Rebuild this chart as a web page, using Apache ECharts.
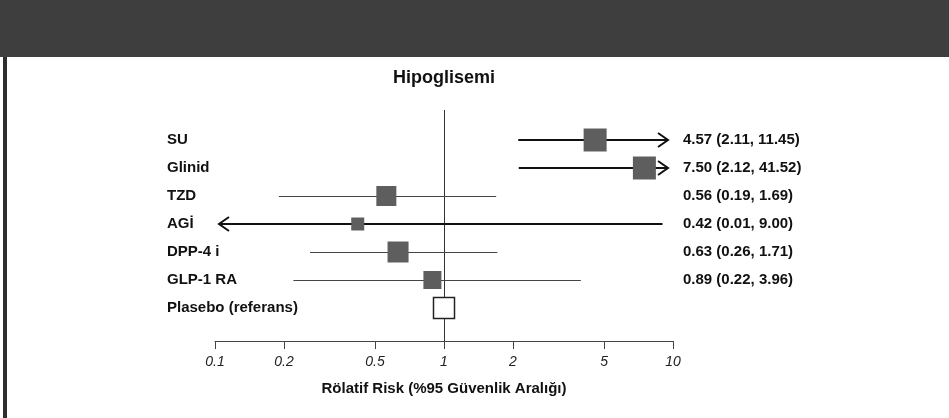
<!DOCTYPE html>
<html>
<head>
<meta charset="utf-8">
<script src="https://cdn.jsdelivr.net/npm/echarts@6/dist/echarts.min.js"></script>
<style>
html,body{margin:0;padding:0;background:#fff;}
#chart{width:949px;height:418px;}
</style>
</head>
<body>
<div id="chart"></div>
<script>
// ---- data ----
const categories = ['SU', 'Glinid', 'TZD', 'AGİ', 'DPP-4 i', 'GLP-1 RA', 'Plasebo (referans)'];
const relRisk = [4.57, 7.50, 0.56, 0.42, 0.63, 0.89, 1];
const ciLower = [2.11, 2.12, 0.19, 0.01, 0.26, 0.22, null];
const ciUpper = [11.45, 41.52, 1.69, 9.00, 1.71, 3.96, null];
const valueLabels = ['4.57 (2.11, 11.45)', '7.50 (2.12, 41.52)', '0.56 (0.19, 1.69)', '0.42 (0.01, 9.00)', '0.63 (0.26, 1.71)', '0.89 (0.22, 3.96)', ''];
const tickValues = [0.1, 0.2, 0.5, 1, 2, 5, 10];
const titleText = 'Hipoglisemi';
const axisTitle = 'Rölatif Risk (%95 Güvenlik Aralığı)';

// ---- style ----
const squareSizes = [23, 23, 20, 13, 21, 18, 21];
const AX_MIN = 0.1, AX_MAX = 10;
const FONT = '"Liberation Sans", Arial, sans-serif';

const chart = echarts.init(document.getElementById('chart'), null, {renderer: 'canvas'});

const ciData = categories.map((c, i) => [ciLower[i], ciUpper[i], i]).filter(d => d[0] != null);
const pointData = categories.map((c, i) => {
  const item = {value: [relRisk[i], i]};
  if (ciLower[i] == null) item.itemStyle = {color: '#fff', borderColor: '#222', borderWidth: 1.5};
  return item;
});

function renderCI(params, api) {
  const lo = api.value(0), hi = api.value(1), row = api.value(2);
  const leftArrow = lo < AX_MIN, rightArrow = hi > AX_MAX;
  const thick = leftArrow || rightArrow;
  let y = api.coord([1, row])[1];
  if (!thick) y = Math.round(y) + 0.5;
  let x1 = api.coord([Math.max(lo, AX_MIN), row])[0];
  let x2 = api.coord([Math.min(hi, AX_MAX), row])[0];
  if (leftArrow) x1 += 4;
  if (rightArrow) x2 -= 5;
  const stroke = thick ? '#111' : '#444';
  const lw = thick ? 2 : 1;
  const children = [{
    type: 'line', shape: {x1: x1, y1: y, x2: x2, y2: y},
    style: {stroke: stroke, lineWidth: lw}
  }];
  if (rightArrow) children.push({type: 'polyline', shape: {points: [[x2 - 10, y - 7], [x2, y], [x2 - 10, y + 7]]}, style: {stroke: '#111', lineWidth: 2, fill: null}});
  if (leftArrow) children.push({type: 'polyline', shape: {points: [[x1 + 10, y - 7], [x1, y], [x1 + 10, y + 7]]}, style: {stroke: '#111', lineWidth: 2, fill: null}});
  return {type: 'group', children: children};
}

function renderRef(params, api) {
  const cs = params.coordSys;
  const x = Math.round(api.coord([api.value(0), 0])[0]) + 0.5;
  return {type: 'line', shape: {x1: x, y1: cs.y - 16, x2: x, y2: cs.y + cs.height + 19}, style: {stroke: '#333', lineWidth: 1}};
}

const option = {
  backgroundColor: '#fff',
  animation: false,
  textStyle: {fontFamily: FONT},
  graphic: [
    {type: 'rect', left: 0, top: 0, shape: {width: 949, height: 57}, style: {fill: '#3e3e3e'}, z: 100},
    {type: 'rect', left: 3, top: 57, shape: {width: 4, height: 361}, style: {fill: '#2e2e2e'}, z: 100},
    {type: 'text', x: 444, y: 78, style: {text: titleText, textAlign: 'center', textVerticalAlign: 'middle', font: 'bold 18px ' + FONT, fill: '#111'}, z: 100}
  ],
  grid: {left: 215, right: 276, top: 126, height: 196, containLabel: false},
  xAxis: {
    type: 'log', logBase: 10, min: AX_MIN, max: AX_MAX,
    position: 'bottom', offset: 19,
    splitLine: {show: false},
    axisLine: {show: true, lineStyle: {color: '#444', width: 1}},
    axisTick: {show: true, inside: false, customValues: tickValues, length: 8, lineStyle: {color: '#444'}},
    minorTick: {show: false},
    axisLabel: {customValues: tickValues, margin: 14, fontStyle: 'italic', fontSize: 14, color: '#222', fontFamily: FONT,
      formatter: v => String(+(+v).toPrecision(3))},
    name: axisTitle, nameLocation: 'middle', nameGap: 40,
    nameTextStyle: {fontWeight: 'bold', fontSize: 15, color: '#111', fontFamily: FONT}
  },
  yAxis: [
    {type: 'category', data: categories, inverse: true, position: 'left',
      axisLine: {show: false}, axisTick: {show: false}, splitLine: {show: false},
      axisLabel: {margin: 48, align: 'left', fontWeight: 'bold', fontSize: 15, color: '#111', fontFamily: FONT}},
    {type: 'category', data: valueLabels, inverse: true, position: 'right',
      axisLine: {show: false}, axisTick: {show: false}, splitLine: {show: false},
      axisLabel: {margin: 10, align: 'left', fontWeight: 'bold', fontSize: 15, color: '#111', fontFamily: FONT}}
  ],
  series: [
    {type: 'custom', name: 'ref', renderItem: renderRef, data: [[1]], clip: false, z: 1, silent: true},
    {type: 'custom', name: 'ci', renderItem: renderCI, data: ciData, encode: {x: [0, 1], y: 2}, clip: false, z: 2, silent: true},
    {type: 'scatter', name: 'rr', data: pointData, symbol: 'rect',
      symbolSize: (val, p) => squareSizes[p.dataIndex],
      itemStyle: {color: '#5e5e5e', opacity: 1, borderWidth: 0},
      z: 3, silent: true}
  ]
};
chart.setOption(option);
</script>
</body>
</html>
